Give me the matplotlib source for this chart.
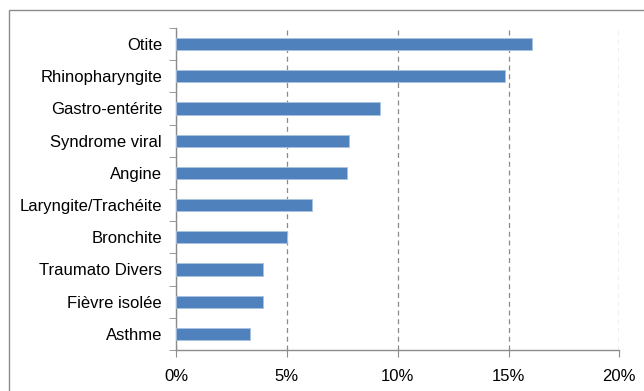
import numpy as np
import matplotlib.pyplot as plt
from matplotlib.patches import Rectangle
from matplotlib.ticker import FuncFormatter

plt.rcParams['font.family'] = ['Liberation Sans', 'DejaVu Sans']

categories = ['Otite', 'Rhinopharyngite', 'Gastro-entérite', 'Syndrome viral',
              'Angine', 'Laryngite/Trachéite', 'Bronchite', 'Traumato Divers',
              'Fièvre isolée', 'Asthme']
values = [16.08, 14.86, 9.22, 7.82, 7.70, 6.12, 5.02, 3.93, 3.93, 3.32]
xticks = [0, 5, 10, 15, 20]

fig = plt.figure(figsize=(6.44, 3.91), dpi=100)
ax = fig.add_axes([0.2733, 0.1049, 0.9617 - 0.2733, 0.9284 - 0.1049])

# outer chart border (only top/left visible in the crop)
fig.patches.append(Rectangle((9 / 644, -0.1), 1.2, 1 - 10 / 391 + 0.1,
                             transform=fig.transFigure, fill=False,
                             edgecolor='#8c8c8c', linewidth=1.0))

n = len(categories)
y = np.arange(n)[::-1]
ax.barh(y, values, height=0.38, color='#4F81BD', edgecolor='#a9c2e0', linewidth=0.6, zorder=3)

ax.set_xlim(0, 20)
ax.set_ylim(-0.5, n - 0.5)
ax.set_xticks(xticks)
ax.xaxis.set_major_formatter(FuncFormatter(lambda v, p: f'{v:.0f}%'))
ax.set_yticks(y)
ax.set_yticklabels(categories)
ax.set_yticks(np.arange(-0.5, n, 1), minor=True)

ax.grid(axis='x', linestyle=(0, (4, 3)), color='#8a8a8a', linewidth=0.9, zorder=0)
ax.set_axisbelow(True)

for s in ['top', 'right']:
    ax.spines[s].set_visible(False)
for s in ['left', 'bottom']:
    ax.spines[s].set_color('#8c8c8c')
    ax.spines[s].set_linewidth(1.0)

ax.tick_params(axis='y', which='major', length=0, pad=10, labelsize=12)
ax.tick_params(axis='y', which='minor', length=5, color='#8c8c8c', direction='out')
ax.tick_params(axis='x', which='major', length=5, color='#8c8c8c', direction='out', pad=9, labelsize=12)

fig.savefig('out.png', dpi=100)
